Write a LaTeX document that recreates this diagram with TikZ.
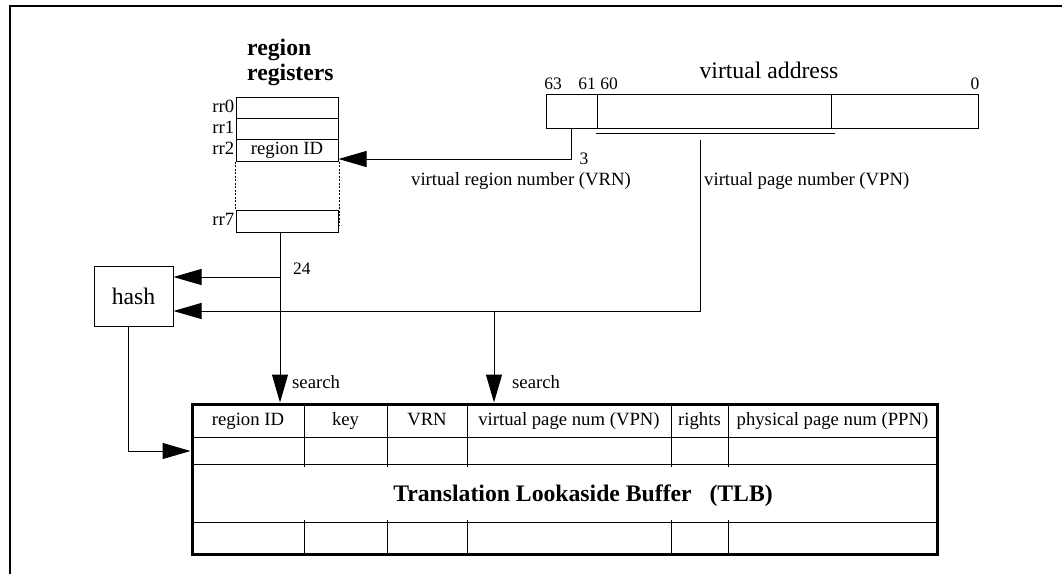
\documentclass[tikz,border=0pt]{standalone}
\usepackage{fontspec}
\setmainfont{Liberation Serif}
\usetikzlibrary{arrows.meta,positioning}
\tikzset{
  reg/.style={draw, line width=1pt, minimum width=102pt},
  arr/.style={line width=1pt, -{Triangle[length=28pt,width=16pt]}},
  lab/.style={font=\fontsize{18.7}{21}\selectfont, text height=13pt, text depth=4pt},
  num/.style={font=\fontsize{17.5}{20}\selectfont, text height=12pt, text depth=0pt},
  big/.style={font=\fontsize{23.7}{26}\selectfont},
  bigb/.style={font=\bfseries\fontsize{23.7}{26}\selectfont}
}
\begin{document}
\begin{tikzpicture}[x=1pt,y=-1pt]
  \tikzstyle{every node}+=[inner sep=0pt]
  \useasboundingbox (0,0) rectangle (1062,574);
  \draw [line width=1.8pt] (1062,6) -- (10,6) -- (10,574);
  % region registers
  \node [bigb, anchor=base west] (regt1) at (247,55) {region};
  \node [bigb, anchor=base west] (regt2) at (247,80) {registers};
  \node [reg, minimum height=21pt] (rr0) at (287,107.5) {};
  \node [reg, minimum height=21pt] (rr1) at (287,128.5) {};
  \node [reg, minimum height=22pt, lab] (rr2) at (287,150) {region ID};
  \node [reg, minimum height=22pt] (rr7) at (287,221) {};
  \node [lab, left=1pt of rr0] (rr0l) {rr0};
  \node [lab, left=1pt of rr1] (rr1l) {rr1};
  \node [lab, left=1pt of rr2] (rr2l) {rr2};
  \node [lab, left=1pt of rr7] (rr7l) {rr7};
  \draw [line width=1pt, dash pattern=on 2pt off 1.5pt] (rr2.south west) -- (rr7.north west);
  \draw [line width=1pt, dash pattern=on 2pt off 1.5pt] ([xshift=1pt]rr2.south east) -- ([xshift=1pt,yshift=-5pt]rr7.east);
  % virtual address
  \node [draw, line width=1pt, minimum width=432pt, minimum height=34pt] (va) at (762,111) {};
  \draw [line width=1pt] ([xshift=52pt]va.north west) -- ([xshift=52pt]va.south west);
  \draw [line width=1pt] ([xshift=286pt]va.north west) -- ([xshift=286pt]va.south west);
  \draw [line width=1pt] (596,133) -- (835,133);
  \node [big] (vatitle) at (769,70) {virtual address};
  \node [num] (b63) at (553,83) {63};
  \node [num] (b61) at (587,83) {61};
  \node [num] (b60) at (609,83) {60};
  \node [num] (b0) at (975,83) {0};
  % TLB
  \node [draw, line width=3pt, minimum width=745pt, minimum height=150pt] (tlb) at (564.5,479) {};
  \foreach \y in {437,464,522} \draw [line width=1pt] (192,\y) -- (937,\y);
  \foreach \x in {304,387,467,671,728} {
    \draw [line width=1pt] (\x,404) -- (\x,467);
    \draw [line width=1pt] (\x,520) -- (\x,554);
  }
  \node [lab] (crid) at (248,420.5) {region ID};
  \node [lab] (ckey) at (345.5,420.5) {key};
  \node [lab] (cvrn) at (427,420.5) {VRN};
  \node [lab] (cvpn) at (569,420.5) {virtual page num (VPN)};
  \node [lab] (crights) at (699.5,420.5) {rights};
  \node [lab] (cppn) at (832.5,420.5) {physical page num (PPN)};
  \node [bigb] (tlbt) at (583,496) {Translation Lookaside Buffer~~~(TLB)};
  % hash
  \node [draw, line width=1pt, minimum width=79pt, minimum height=60pt, big] (hash) at (133.5,296) {hash};
  % connectors
  \coordinate (vrn) at (571,128);
  \draw [arr] (vrn) |- ([yshift=-9pt]rr2.east);
  \node [num] (n3) at (584,158) {3};
  \node [lab] (vrnlab) at (521,181) {virtual region number (VRN)};
  \coordinate (vpn) at (700,140);
  \node [lab, anchor=west] (vpnlab) at (704,181) {virtual page number (VPN)};
  \coordinate (h1) at ([yshift=19pt]hash.east);
  \coordinate (h2) at ([yshift=-15pt]hash.east);
  \coordinate (rrout) at ([xshift=-7pt]rr7.south);
  \draw [arr] (rrout) -- (rrout |- tlb.north);
  \draw [arr] (rrout |- h1) -- (h1);
  \node [num, anchor=west] (n24) at (293,268) {24};
  \draw [arr] (vpn) |- (h2);
  \coordinate (vsplit) at (494,311);
  \draw [arr] (vsplit) -- (vsplit |- tlb.north);
  \node [lab, anchor=west] (s1) at (292,384) {search};
  \node [lab, anchor=west] (s2) at (512,384) {search};
  \coordinate (tlbin) at ([yshift=28pt]tlb.west);
  \draw [arr] ([xshift=-5pt]hash.south) |- (tlbin);
\end{tikzpicture}
\end{document}
